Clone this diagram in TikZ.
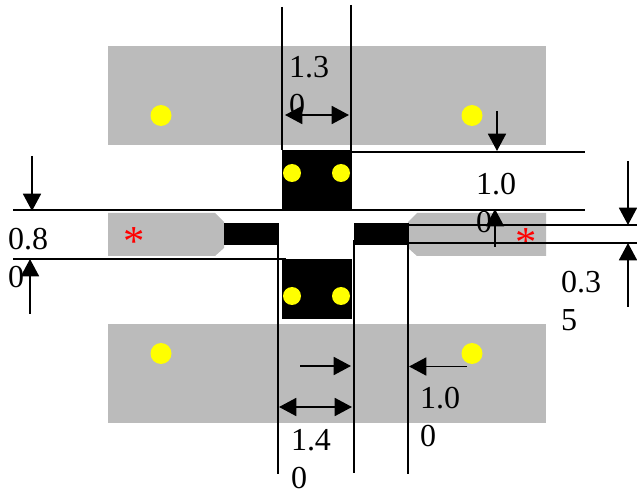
\documentclass[tikz,border=0pt]{standalone}
\usepackage{fontspec}
\setmainfont{Liberation Serif}
\usetikzlibrary{arrows.meta}
\definecolor{padgray}{HTML}{BBBBBB}
\definecolor{dotyellow}{HTML}{FFFF00}
\tikzset{
  px/.style={x=0.75pt,y=-0.75pt},
  pad/.style={fill=padgray,draw=none},
  metal/.style={fill=black,draw=none},
  dot/.style={fill=dotyellow,draw=none},
  dimline/.style={draw=black,line width=1.35pt},
  dimarrow/.style={draw=black,line width=1.35pt,-{Triangle[length=13pt,width=13.5pt]}},
  dimboth/.style={draw=black,line width=1.35pt,{Triangle[length=13pt,width=13.5pt]}-{Triangle[length=13pt,width=13.5pt]}},
  dimtext/.style={inner sep=0pt,outer sep=0pt,anchor=north west,align=left,font=\fontsize{24pt}{28.5pt}\selectfont},
  star/.style={inner sep=0pt,text=red,font=\fontsize{32pt}{36pt}\selectfont}
}
\begin{document}
\begin{tikzpicture}[px]
\useasboundingbox (0,0) rectangle (637,492);
% pads
\fill[pad] (108,46) rectangle (546,145);
\fill[pad] (108,324) rectangle (546,423);
\fill[pad] (108,213) -- (215,213) -- (224,222) -- (224,248) -- (215,256) -- (108,256) -- cycle;
\fill[pad] (546,213) -- (417,213) -- (408,222) -- (408,248) -- (417,256) -- (546,256) -- cycle;
% metal
\fill[metal] (282,150) rectangle (352,211);
\fill[metal] (282,259) rectangle (352,319);
\fill[metal] (224,223) rectangle (279,245);
\fill[metal] (354,223) rectangle (409,245);
% dots
\foreach \x/\y in {161/115.5,472/115.5,161/353.5,472/353.5}
  \fill[dot] (\x,\y) circle[radius=10.5];
\foreach \x/\y in {292/173,341/173,292/296,341/296}
  \fill[dot] (\x,\y) circle[radius=9];
% texts
\node[star] (s1) at (134,242) {*};
\node[star] (s2) at (526,243) {*};
\node[dimtext] (t13) at (289,56) {1.3\\0};
\node[dimtext] (t10a) at (476,173) {1.0\\0};
\node[dimtext] (t08) at (8,228) {0.8\\0};
\node[dimtext] (t035) at (561,271) {0.3\\5};
\node[dimtext] (t10b) at (420,387) {1.0\\0};
\node[dimtext] (t14) at (291,429) {1.4\\0};
% dimension lines
\draw[dimline] (282,7) -- (282,150);
\draw[dimline] (351,5) -- (351,150);
\draw[dimline] (351,152) -- (585,152);
\draw[dimline] (13,210) -- (585,210);
\draw[dimline] (13,259) -- (286,259);
\draw[dimline] (278,245) -- (278,474);
\draw[dimline] (354,240) -- (354,473);
\draw[dimline] (408,245) -- (408,474);
\draw[dimline] (409,225) -- (637,225);
\draw[dimline] (409,243) -- (637,243);
% arrows
\draw[dimarrow] (32,156) -- (32,211);
\draw[dimarrow] (30,314) -- (30,259);
\draw[dimarrow] (497,111) -- (497,151);
\draw[dimarrow] (495,247) -- (495,209);
\draw[dimarrow] (628,161) -- (628,225);
\draw[dimarrow] (628,307) -- (628,243);
\draw[dimboth] (285,115) -- (349,115);
\draw[dimboth] (279,407) -- (352,407);
\draw[dimarrow] (300,366) -- (351,366);
\draw[dimarrow] (467,366.5) -- (409,366.5);
\end{tikzpicture}
\end{document}
